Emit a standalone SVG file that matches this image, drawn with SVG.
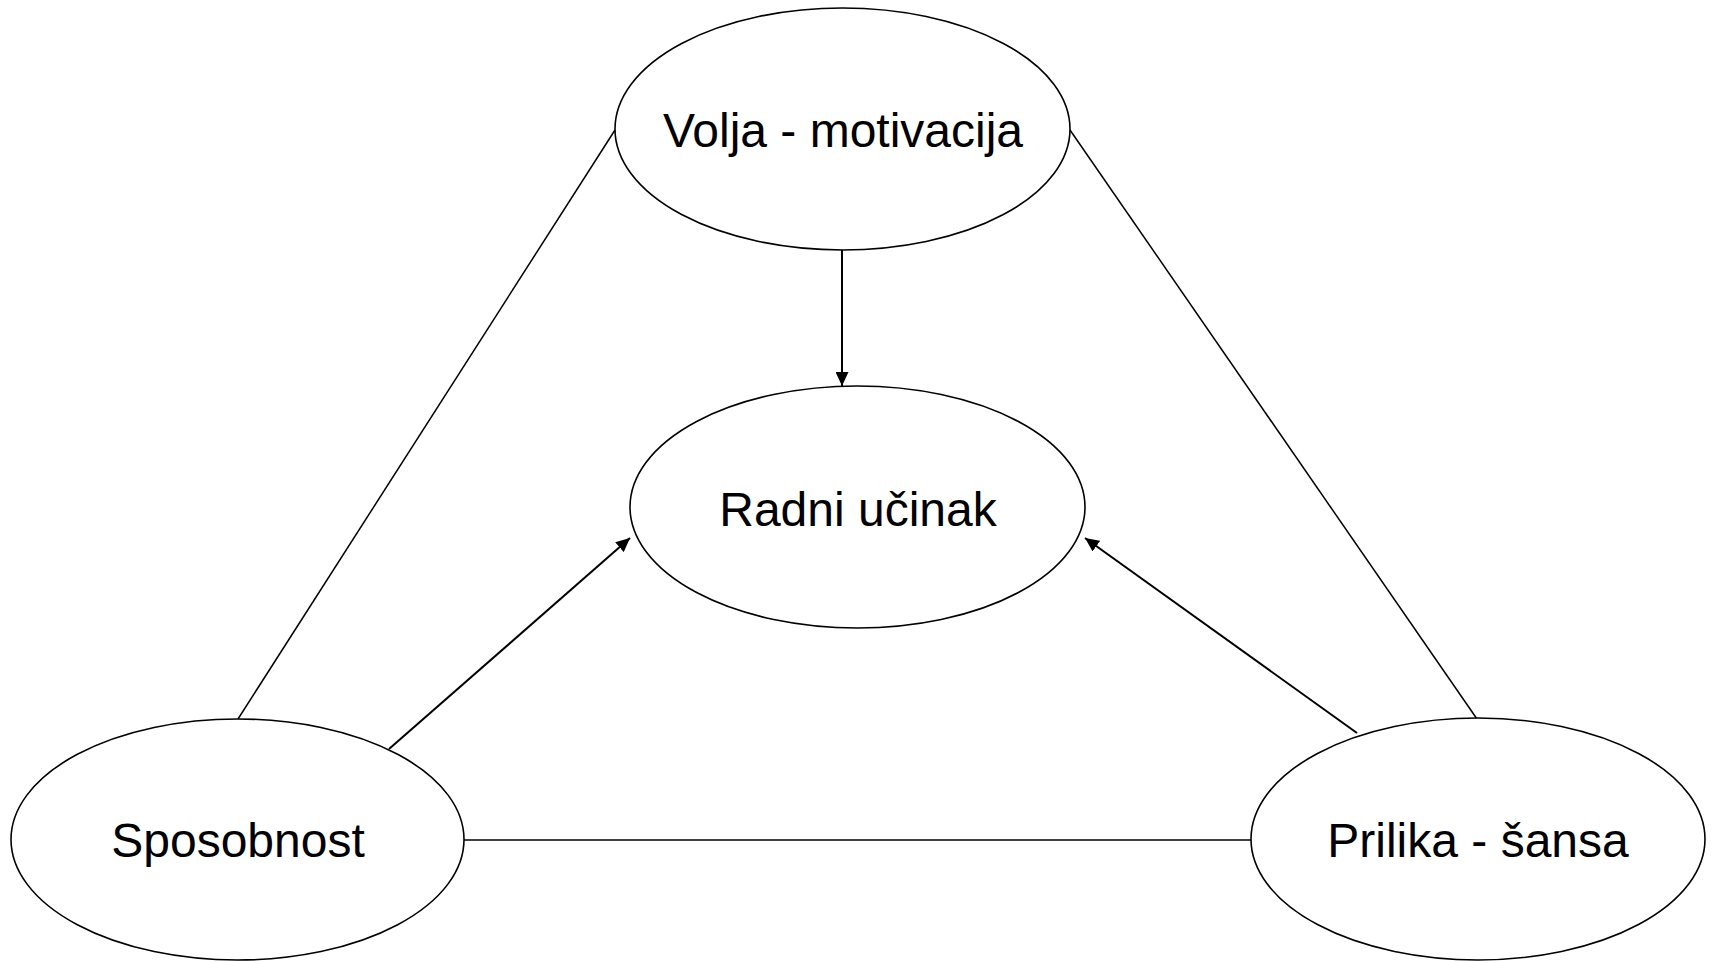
<svg xmlns="http://www.w3.org/2000/svg" width="1712" height="961" viewBox="0 0 1712 961">
<style>
.node ellipse{fill:#fff;stroke:#000;stroke-width:1.6}
.node text{font-family:"Liberation Sans",Arial,sans-serif;font-size:48px;fill:#000;text-anchor:middle}
.conn line{stroke:#000;stroke-width:1.5;fill:none}
.conn line.arr{stroke-width:2;marker-end:url(#ah)}
</style>
<defs>
<marker id="ah" markerUnits="userSpaceOnUse" markerWidth="15" markerHeight="13" refX="14" refY="6.5" orient="auto">
<path d="M0,0 L14,6.5 L0,13 z" fill="#000"/>
</marker>
</defs>
<rect width="1712" height="961" fill="#fff"/>
<g id="connectors" class="conn">
<line x1="615" y1="130" x2="238" y2="719"/>
<line x1="1070" y1="130" x2="1477" y2="719"/>
<line x1="464" y1="840" x2="1251" y2="840"/>
<line class="arr" x1="842" y1="250" x2="842" y2="386"/>
<line class="arr" x1="389" y1="749" x2="630" y2="538"/>
<line class="arr" x1="1357" y1="733" x2="1085" y2="538"/>
</g>
<g id="volja" class="node">
<ellipse cx="842.5" cy="129" rx="227.5" ry="121"/>
<text x="843" y="147">Volja - motivacija</text>
</g>
<g id="radni" class="node">
<ellipse cx="857.5" cy="507" rx="227.5" ry="121"/>
<text x="858" y="526">Radni učinak</text>
</g>
<g id="sposobnost" class="node">
<ellipse cx="237.5" cy="839.5" rx="226.5" ry="120.5"/>
<text x="238" y="857">Sposobnost</text>
</g>
<g id="prilika" class="node">
<ellipse cx="1478" cy="839" rx="227" ry="121"/>
<text x="1478" y="857">Prilika - šansa</text>
</g>
</svg>
